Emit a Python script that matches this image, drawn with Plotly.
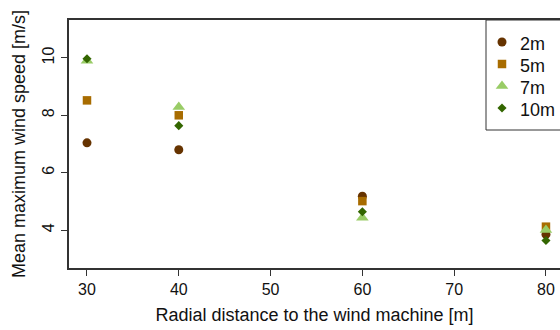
import plotly.graph_objects as go

distances = [30, 40, 60, 80]
series_names = ["2m", "5m", "7m", "10m"]
speed_2m = [7.04, 6.80, 5.18, 3.85]
speed_5m = [8.52, 8.00, 5.01, 4.12]
speed_7m = [9.90, 8.29, 4.43, 4.00]
speed_10m = [9.97, 7.64, 4.64, 3.64]
x_ticks = [30, 40, 50, 60, 70, 80]
y_ticks = [4, 6, 8, 10]

colors = ["#663300", "#A86C00", "#99CC66", "#336600"]
symbols = ["circle", "square", "triangle-up", "diamond"]
sizes = [9, 8.5, 11, 7]

L, T, W, H = 69, 20, 491, 248

def px_x(p):
    return (p - L) / W

def px_y(p):
    return 1 - (p - T) / H

fig = go.Figure()
for name, vals, c, s, sz in zip(series_names, [speed_2m, speed_5m, speed_7m, speed_10m], colors, symbols, sizes):
    fig.add_trace(go.Scatter(x=distances, y=vals, mode="markers", name=name, showlegend=False,
                             marker=dict(color=c, symbol=s, size=sz, line=dict(width=0))))

# manual legend (pixel-coordinate overlay axes)
annotations = []
for i, (name, c, s, sz) in enumerate(zip(series_names, colors, symbols, sizes)):
    sy = 42 + 22 * i
    fig.add_trace(go.Scatter(x=[502], y=[sy], mode="markers", showlegend=False, hoverinfo="skip",
                             xaxis="x2", yaxis="y2",
                             marker=dict(color=c, symbol=s, size=sz, line=dict(width=0))))
    annotations.append(dict(x=px_x(518), y=px_y(sy + 2), xref="paper", yref="paper",
                            text=name, showarrow=False, xanchor="left", yanchor="middle",
                            font=dict(size=18)))

font = dict(family="Liberation Sans, Arial, sans-serif", size=16, color="#111111")
title_font = dict(family="Liberation Sans, Arial, sans-serif", size=18, color="#111111")
fig.update_layout(
    width=560, height=330,
    margin=dict(l=L, r=0, t=T, b=330 - T - H, autoexpand=False),
    paper_bgcolor="white", plot_bgcolor="white",
    font=font,
    showlegend=False,
    annotations=annotations,
    shapes=[dict(type="rect", xref="paper", yref="paper",
                 x0=px_x(486), x1=px_x(620), y0=px_y(130), y1=px_y(20),
                 line=dict(color="#333333", width=1), fillcolor="rgba(0,0,0,0)", layer="above")],
    xaxis=dict(range=[28.04, 81.53], tickvals=x_ticks, showgrid=False, zeroline=False,
               showline=True, linecolor="#333333", linewidth=1.5, mirror=True,
               ticks="outside", ticklen=6, tickcolor="#333333",
               title=dict(text="Radial distance to the wind machine [m]", standoff=11, font=title_font)),
    yaxis=dict(range=[2.68, 11.32], tickvals=y_ticks, showgrid=False, zeroline=False,
               showline=True, linecolor="#333333", linewidth=1.5, mirror=False,
               ticks="outside", ticklen=6, tickcolor="#333333", tickangle=-90,
               ticklabelstandoff=1,
               title=dict(text="Mean maximum wind speed [m/s]", standoff=10, font=title_font)),
    xaxis2=dict(range=[L, L + W], overlaying="x", anchor="y2", visible=False, fixedrange=True),
    yaxis2=dict(range=[T + H, T], overlaying="y", anchor="x2", visible=False, fixedrange=True),
)
fig.write_html("out.html")
